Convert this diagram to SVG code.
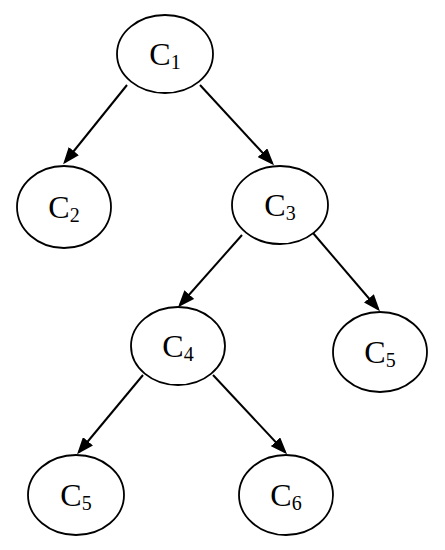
<svg xmlns="http://www.w3.org/2000/svg" width="445" height="550" viewBox="0 0 445 550">
<style>
.n ellipse{fill:#fff;stroke:#000;stroke-width:1.8}
.n text{font-family:"Liberation Serif","Times New Roman",serif;font-size:32px;fill:#000;text-anchor:middle}
.n tspan{font-size:20px}
.e line{stroke:#000;stroke-width:2;marker-end:url(#ah)}
</style>
<defs>
<marker id="ah" viewBox="0 0 17 13" refX="14" refY="6.5" markerWidth="17" markerHeight="13" markerUnits="userSpaceOnUse" orient="auto">
<path d="M0,0 L17,6.5 L0,13 z" fill="#000"/>
</marker>
</defs>
<rect width="445" height="550" fill="#fff"/>
<g id="edges" class="e">
<line x1="127" y1="85" x2="65" y2="162"/>
<line x1="200" y1="85" x2="272" y2="163"/>
<line x1="242" y1="235" x2="180" y2="305"/>
<line x1="313" y1="233" x2="378" y2="309"/>
<line x1="143" y1="375" x2="79" y2="452"/>
<line x1="213" y1="375" x2="285" y2="452"/>
</g>
<g id="c1" class="n"><ellipse cx="165" cy="54" rx="48" ry="39"/><text x="165" y="65">C<tspan dy="4">1</tspan></text></g>
<g id="c2" class="n"><ellipse cx="64" cy="207" rx="47" ry="41"/><text x="64" y="218">C<tspan dy="4">2</tspan></text></g>
<g id="c3" class="n"><ellipse cx="280" cy="205" rx="48" ry="39"/><text x="280" y="216">C<tspan dy="4">3</tspan></text></g>
<g id="c4" class="n"><ellipse cx="178" cy="346" rx="47" ry="39"/><text x="178" y="357">C<tspan dy="4">4</tspan></text></g>
<g id="c5a" class="n"><ellipse cx="380" cy="352" rx="47" ry="40"/><text x="380" y="363">C<tspan dy="4">5</tspan></text></g>
<g id="c5b" class="n"><ellipse cx="76" cy="495" rx="48" ry="40"/><text x="76" y="506">C<tspan dy="4">5</tspan></text></g>
<g id="c6" class="n"><ellipse cx="286" cy="495" rx="47" ry="40"/><text x="286" y="506">C<tspan dy="4">6</tspan></text></g>
</svg>
